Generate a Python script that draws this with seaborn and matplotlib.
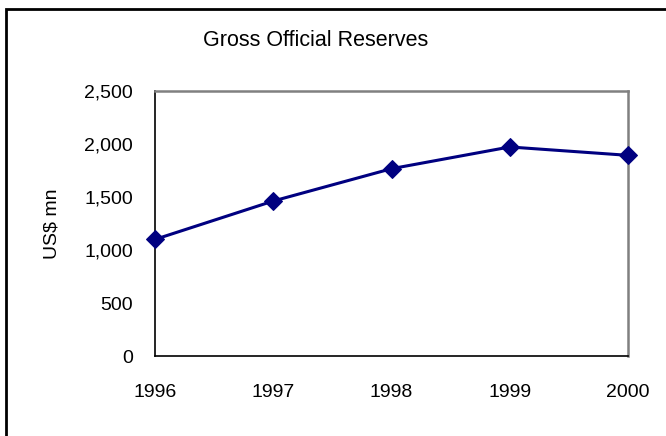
import pandas as pd
import matplotlib.pyplot as plt
import seaborn as sns
from matplotlib.patches import Rectangle
from matplotlib.ticker import FuncFormatter

years = [1996, 1997, 1998, 1999, 2000]
reserves = [1100, 1462, 1767, 1972, 1893]
y_ticks = [0, 500, 1000, 1500, 2000, 2500]

df = pd.DataFrame({"Year": years, "Reserves": reserves})

sns.set_style("white")
plt.rcParams["font.family"] = ["Liberation Sans", "DejaVu Sans"]
plt.rcParams["text.color"] = "black"
plt.rcParams["axes.labelcolor"] = "black"

fig = plt.figure(figsize=(6.66, 4.36), dpi=100)
ax = fig.add_axes([155 / 666, 80 / 436, 473 / 666, 265 / 436])

sns.lineplot(x="Year", y="Reserves", data=df, ax=ax, color="#000080",
             marker="D", markersize=9, markeredgecolor="#000080",
             linewidth=2.2, clip_on=False, zorder=5)

ax.set_xlim(1996, 2000)
ax.set_ylim(0, 2500)
ax.set_xticks(years)
ax.set_yticks(y_ticks)
ax.yaxis.set_major_formatter(FuncFormatter(lambda v, p: f"{int(v):,}"))
ax.tick_params(axis="both", labelsize=14, colors="black", length=4,
               width=1, direction="out")
ax.tick_params(axis="x", pad=16)
ax.tick_params(axis="y", pad=12)

for side in ["top", "right"]:
    ax.spines[side].set_color("#808080")
    ax.spines[side].set_linewidth(1.8)
for side in ["left", "bottom"]:
    ax.spines[side].set_color("black")
    ax.spines[side].set_linewidth(1.2)

ax.set_xlabel("")
ax.set_ylabel("US$ mn", fontsize=14, color="black")
ax.yaxis.set_label_coords(-(155 - 61) / 473, 0.5)

fig.text(316 / 666, 1 - 40 / 436, "Gross Official Reserves", fontsize=15.5,
         ha="center", va="center", color="black")

fig.patches.append(Rectangle((6 / 666, -0.05), 1.0, 1 - 9 / 436 + 0.05,
                             transform=fig.transFigure, fill=False,
                             edgecolor="black", linewidth=2, figure=fig))

fig.savefig("out.png", dpi=100)
